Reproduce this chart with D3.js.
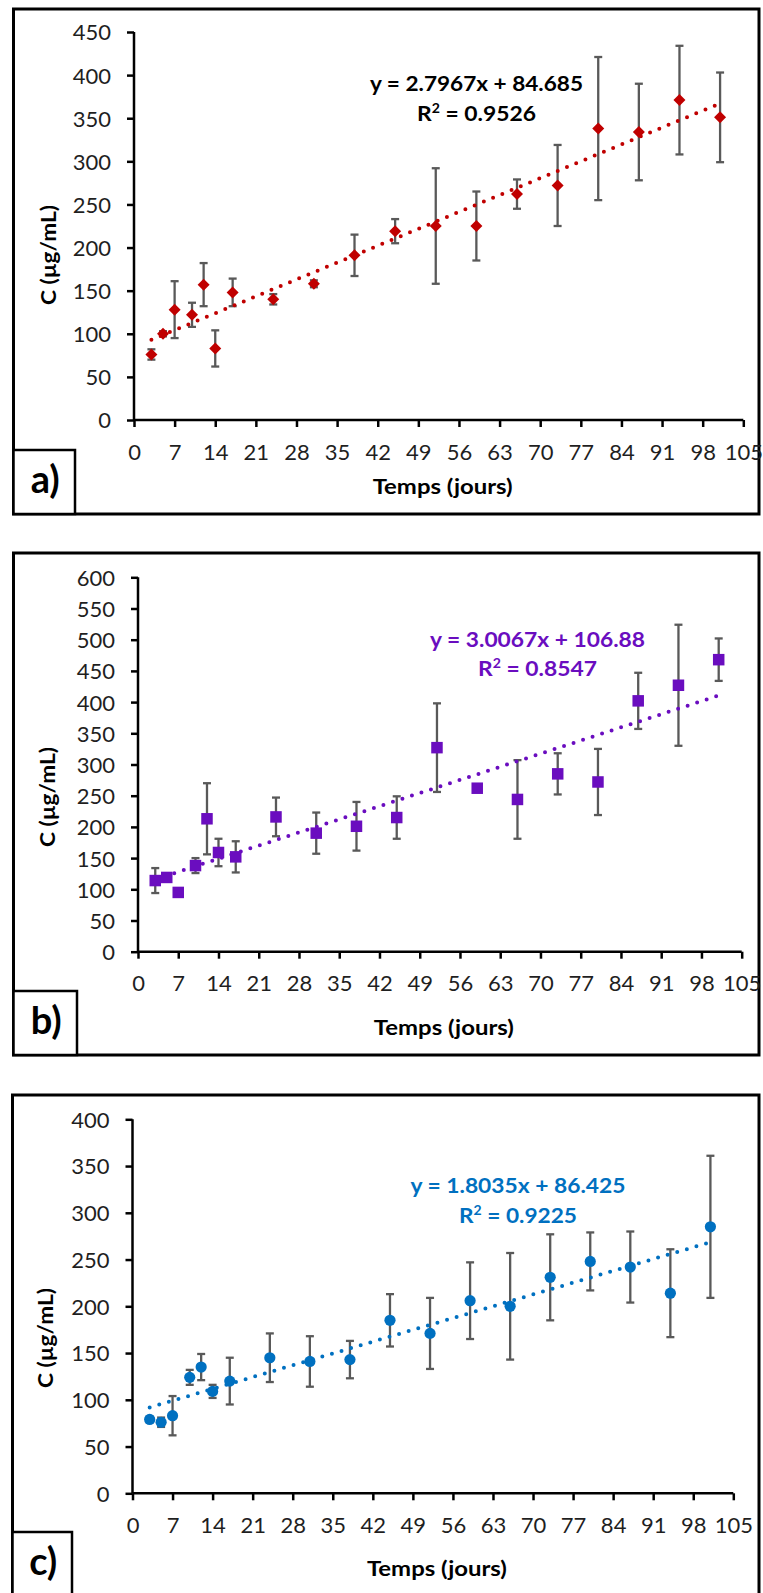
<!DOCTYPE html>
<html><head><meta charset="utf-8">
<script src="https://cdn.jsdelivr.net/npm/d3@7"></script>
<style>
body{margin:0;background:#fff}
svg{display:block}
text{font-family:Lato,"Open Sans",sans-serif}
</style>
</head><body>
<svg id="chart" width="763" height="1593"></svg>
<script>
// ---------- DATA ----------
const days = [3, 5, 7, 10, 12, 14, 17, 24, 31, 38, 45, 52, 59, 66, 73, 80, 87, 94, 101];

const concA = [76, 100, 128, 122, 157, 83, 148, 140, 158, 191, 219, 225, 225, 262, 272, 338, 334, 371, 351];
const errA  = [6, 3, 33, 14, 25, 21, 16, 6, 4, 24, 14, 67, 40, 17, 47, 83, 56, 63, 52];

const concB = [114, 119, 95, 138, 213, 159, 152, 216, 190, 201, 215, 327, 262, 244, 285, 272, 402, 427, 468];
const errB  = [20, 5, 3, 12, 57, 22, 25, 31, 33, 39, 34, 71, 4, 63, 33, 53, 45, 97, 34];

const concC = [79, 76, 83, 124, 135, 109, 120, 145, 141, 143, 185, 171, 206, 200, 231, 248, 242, 214, 285];
const errC  = [3, 5, 21, 8, 14, 7, 25, 26, 27, 20, 28, 38, 41, 57, 46, 31, 38, 47, 76];

const xTickValues = [0, 7, 14, 21, 28, 35, 42, 49, 56, 63, 70, 77, 84, 91, 98, 105];
const yTicksA = [0, 50, 100, 150, 200, 250, 300, 350, 400, 450];
const yTicksB = [0, 50, 100, 150, 200, 250, 300, 350, 400, 450, 500, 550, 600];
const yTicksC = [0, 50, 100, 150, 200, 250, 300, 350, 400];

const trendA = {slope: 2.7967, intercept: 84.685, r2: "0.9526"};
const trendB = {slope: 3.0067, intercept: 106.88, r2: "0.8547"};
const trendC = {slope: 1.8035, intercept: 86.425, r2: "0.9225"};

const panelLabels = ["a)", "b)", "c)"];
const xTitle = "Temps (jours)";
const yTitle = "C (µg/mL)";

// ---------- LAYOUT ----------
const panels = [
  {label: panelLabels[0], conc: concA, err: errA, yTicks: yTicksA, trend: trendA, color: "#C00000", eqColor: "#000", shape: "diamond",
   frame: {x0: 13.5, y0: 9, x1: 759, y1: 514}, boxX1: 75, boxY0: 450,
   px0: 134, px1: 743.3, py0: 420, py1: 32, xTitleY: 494, yTitleX: 56, yTitleY: 255,
   eq: {cx: 476.5, y1: 90.7, y2: 120.7, w1: 213, w2: 119}},
  {label: panelLabels[1], conc: concB, err: errB, yTicks: yTicksB, trend: trendB, color: "#6A0DBF", eqColor: "#6A0DBF", shape: "square",
   frame: {x0: 13.5, y0: 553, x1: 759, y1: 1055}, boxX1: 77, boxY0: 991,
   px0: 138, px1: 741.7, py0: 951.7, py1: 577.3, xTitleY: 1035, yTitleX: 55, yTitleY: 797,
   eq: {cx: 537.5, y1: 646.7, y2: 676, w1: 215, w2: 119}},
  {label: panelLabels[2], conc: concC, err: errC, yTicks: yTicksC, trend: trendC, color: "#0070C0", eqColor: "#0070C0", shape: "circle",
   frame: {x0: 12.5, y0: 1095, x1: 759, y1: 1597}, boxX1: 72, boxY0: 1532,
   px0: 132.5, px1: 733.3, py0: 1493.3, py1: 1119.3, xTitleY: 1576, yTitleX: 53, yTitleY: 1338,
   eq: {cx: 518, y1: 1193.3, y2: 1222.7, w1: 215, w2: 118}}
];

const svg = d3.select("#chart");

panels.forEach(p => {
  const g = svg.append("g");
  const yMax = p.yTicks[p.yTicks.length - 1];
  const x = d3.scaleLinear().domain([0, 105]).range([p.px0, p.px1]);
  const y = d3.scaleLinear().domain([0, yMax]).range([p.py0, p.py1]);

  // frame
  g.append("rect")
    .attr("x", p.frame.x0).attr("y", p.frame.y0)
    .attr("width", p.frame.x1 - p.frame.x0).attr("height", p.frame.y1 - p.frame.y0)
    .attr("fill", "none").attr("stroke", "#000").attr("stroke-width", 3);

  // label box
  g.append("rect")
    .attr("x", p.frame.x0).attr("y", p.boxY0)
    .attr("width", p.boxX1 - p.frame.x0).attr("height", p.frame.y1 - p.boxY0)
    .attr("fill", "#fff").attr("stroke", "#000").attr("stroke-width", 2.5);
  g.append("text")
    .attr("x", (p.frame.x0 + p.boxX1) / 2 + 1).attr("y", p.boxY0 + 43)
    .attr("text-anchor", "middle").attr("font-weight", "bold").attr("font-size", 38)
    .attr("fill", "#000").text(p.label);

  // axes
  const xAxis = d3.axisBottom(x).tickValues(xTickValues).tickSize(7).tickPadding(10).tickFormat(d3.format("d"));
  const yAxis = d3.axisLeft(y).tickValues(p.yTicks).tickSize(7).tickPadding(16).tickFormat(d3.format("d"));

  const gx = g.append("g").attr("transform", `translate(0,${p.py0})`).call(xAxis);
  const gy = g.append("g").attr("transform", `translate(${p.px0},0)`).call(yAxis);
  [gx, gy].forEach(ax => {
    ax.select(".domain").attr("stroke", "#000").attr("stroke-width", 2.5);
    ax.selectAll(".tick line").attr("stroke", "#000").attr("stroke-width", 2.5);
    ax.selectAll(".tick text").attr("font-size", 22).attr("fill", "#1f1f1f")
      .style("font-family", "Lato, 'Open Sans', sans-serif");
  });
  gx.select(".domain").attr("d", `M${p.px0},0H${p.px1}`);
  gy.select(".domain").attr("d", `M0,${p.py0}V${p.py1}`);
  gx.selectAll(".tick text").attr("dy", "0.71em").attr("y", 24);
  gy.selectAll(".tick text").attr("dy", "0.36em");

  // axis titles
  g.append("text")
    .attr("x", (p.px0 + p.px1) / 2 + 4).attr("y", p.xTitleY)
    .attr("text-anchor", "middle").attr("font-weight", "bold").attr("font-size", 21)
    .attr("fill", "#000").attr("textLength", 140).attr("lengthAdjust", "spacingAndGlyphs")
    .text(xTitle);
  g.append("text")
    .attr("transform", `translate(${p.yTitleX},${p.yTitleY}) rotate(-90)`)
    .attr("text-anchor", "middle").attr("font-weight", "bold").attr("font-size", 21)
    .attr("fill", "#000").attr("textLength", 100).attr("lengthAdjust", "spacingAndGlyphs")
    .text(yTitle);

  const pts = days.map((d, i) => ({t: d, v: p.conc[i], e: p.err[i]}));

  // error bars
  const eb = g.append("g").attr("stroke", "#595959").attr("stroke-width", 2.3);
  pts.forEach(d => {
    const xx = x(d.t), yt = y(d.v + d.e), yb = y(d.v - d.e);
    eb.append("line").attr("x1", xx).attr("x2", xx).attr("y1", yt).attr("y2", yb);
    eb.append("line").attr("x1", xx - 4).attr("x2", xx + 4).attr("y1", yt).attr("y2", yt);
    eb.append("line").attr("x1", xx - 4).attr("x2", xx + 4).attr("y1", yb).attr("y2", yb);
  });

  // trendline
  const tx0 = days[0], tx1 = days[days.length - 1];
  const trendPts = [tx0, tx1].map(t => [x(t), y(p.trend.slope * t + p.trend.intercept)]);
  g.append("path")
    .attr("d", d3.line()(trendPts))
    .attr("fill", "none").attr("stroke", p.color).attr("stroke-width", 4)
    .attr("stroke-linecap", "round").attr("stroke-dasharray", "0 10");

  // markers
  const mk = g.append("g").attr("fill", p.color);
  pts.forEach(d => {
    const xx = x(d.t), yy = y(d.v);
    if (p.shape === "diamond") {
      mk.append("path").attr("transform", `translate(${xx},${yy})`).attr("d", "M0,-6L6,0L0,6L-6,0Z");
    } else if (p.shape === "square") {
      mk.append("rect").attr("x", xx - 5.75).attr("y", yy - 5.75).attr("width", 11.5).attr("height", 11.5);
    } else {
      mk.append("circle").attr("cx", xx).attr("cy", yy).attr("r", 5.6);
    }
  });

  // equation
  const eqText = `y = ${p.trend.slope}x + ${p.trend.intercept}`;
  g.append("text")
    .attr("x", p.eq.cx).attr("y", p.eq.y1).attr("text-anchor", "middle")
    .attr("font-weight", "bold").attr("font-size", 21).attr("fill", p.eqColor)
    .attr("textLength", p.eq.w1).attr("lengthAdjust", "spacingAndGlyphs")
    .text(eqText);
  const r2 = g.append("text")
    .attr("x", p.eq.cx).attr("y", p.eq.y2).attr("text-anchor", "middle")
    .attr("font-weight", "bold").attr("font-size", 21).attr("fill", p.eqColor)
    .attr("textLength", p.eq.w2).attr("lengthAdjust", "spacingAndGlyphs");
  r2.append("tspan").text("R");
  r2.append("tspan").attr("font-size", 13).attr("dy", -8).text("2");
  r2.append("tspan").attr("dy", 8).text(" = " + p.trend.r2);
});
</script>
</body></html>
